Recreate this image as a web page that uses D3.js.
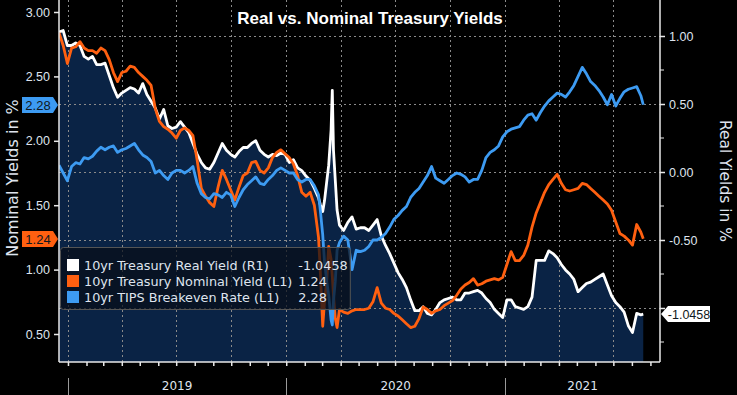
<!DOCTYPE html>
<html>
<head>
<meta charset="utf-8">
<script src="https://cdn.jsdelivr.net/npm/d3@7"></script>
<style>
  html, body { margin: 0; padding: 0; background: #000; }
  svg { display: block; font-family: "DejaVu Sans", sans-serif; }
</style>
</head>
<body>
<div id="chart"></div>
<script>
// weekly observations, with a few extra days around the March 2020 spike
const dates = [
  "2018-12-17", "2018-12-24", "2018-12-31",
  "2019-01-07", "2019-01-14", "2019-01-21", "2019-01-28", "2019-02-04", "2019-02-11", "2019-02-18", "2019-02-25",
  "2019-03-04", "2019-03-11", "2019-03-18", "2019-03-25", "2019-04-01", "2019-04-08", "2019-04-15", "2019-04-22",
  "2019-04-29", "2019-05-06", "2019-05-13", "2019-05-20", "2019-05-27", "2019-06-03", "2019-06-10", "2019-06-17",
  "2019-06-24", "2019-07-01", "2019-07-08", "2019-07-15", "2019-07-22", "2019-07-29", "2019-08-05", "2019-08-12",
  "2019-08-19", "2019-08-26", "2019-09-02", "2019-09-09", "2019-09-16", "2019-09-23", "2019-09-30", "2019-10-07",
  "2019-10-14", "2019-10-21", "2019-10-28", "2019-11-04", "2019-11-11", "2019-11-18", "2019-11-25", "2019-12-02",
  "2019-12-09", "2019-12-16", "2019-12-23", "2019-12-30",
  "2020-01-06", "2020-01-13", "2020-01-20", "2020-01-27", "2020-02-03", "2020-02-10", "2020-02-17", "2020-02-24",
  "2020-02-27", "2020-03-02", "2020-03-05", "2020-03-09", "2020-03-12", "2020-03-16", "2020-03-18", "2020-03-20",
  "2020-03-23", "2020-03-26", "2020-03-30", "2020-04-06", "2020-04-13", "2020-04-20", "2020-04-27", "2020-05-04",
  "2020-05-11", "2020-05-18", "2020-05-25", "2020-06-01", "2020-06-08", "2020-06-15", "2020-06-22", "2020-06-29",
  "2020-07-06", "2020-07-13", "2020-07-20", "2020-07-27", "2020-08-03", "2020-08-10", "2020-08-17", "2020-08-24",
  "2020-08-31", "2020-09-07", "2020-09-14", "2020-09-21", "2020-09-28", "2020-10-05", "2020-10-12", "2020-10-19",
  "2020-10-26", "2020-11-02", "2020-11-09", "2020-11-16", "2020-11-23", "2020-11-30", "2020-12-07", "2020-12-14",
  "2020-12-21", "2020-12-28",
  "2021-01-04", "2021-01-11", "2021-01-18", "2021-01-25", "2021-02-01", "2021-02-08", "2021-02-15", "2021-02-22",
  "2021-03-01", "2021-03-08", "2021-03-15", "2021-03-22", "2021-03-29", "2021-04-05", "2021-04-12", "2021-04-19",
  "2021-04-26", "2021-05-03", "2021-05-10", "2021-05-17", "2021-05-24", "2021-05-31", "2021-06-07", "2021-06-14",
  "2021-06-21", "2021-06-28", "2021-07-05", "2021-07-12", "2021-07-19", "2021-07-26", "2021-08-02", "2021-08-09",
  "2021-08-16", "2021-08-20"
];

// 10yr Treasury nominal yield, % (left axis)
const nominalYield = [
  2.84, 2.74, 2.60,
  2.72, 2.73, 2.77, 2.72, 2.70, 2.70, 2.68, 2.72, 2.70, 2.63, 2.53, 2.46, 2.53, 2.54, 2.58, 2.57, 2.53, 2.50,
  2.47, 2.43, 2.25, 2.15, 2.11, 2.09, 2.06, 2.02, 2.08, 2.10, 2.08, 2.04, 1.85, 1.63, 1.57, 1.52, 1.49, 1.64,
  1.77, 1.70, 1.62, 1.54, 1.64, 1.73, 1.75, 1.83, 1.84, 1.77, 1.75, 1.79, 1.87, 1.91, 1.93, 1.90,
  1.87, 1.82, 1.73, 1.60, 1.57, 1.60, 1.50, 1.25, 0.98, 0.56, 0.75, 0.93, 1.18, 1.08, 0.95, 0.80, 0.62, 0.55,
  0.69, 0.67, 0.66, 0.68, 0.69, 0.69, 0.69, 0.70, 0.75, 0.86, 0.74, 0.70, 0.69, 0.66, 0.64, 0.61, 0.58, 0.55,
  0.56, 0.62, 0.71, 0.69, 0.66, 0.68, 0.69, 0.72, 0.74, 0.76, 0.80, 0.85, 0.88, 0.90, 0.93, 0.88, 0.89, 0.91,
  0.92, 0.93, 0.92, 0.94,
  1.04, 1.14, 1.07, 1.07, 1.11, 1.19, 1.33, 1.44, 1.52, 1.60, 1.66, 1.70, 1.74, 1.67, 1.62, 1.61, 1.62, 1.63,
  1.67, 1.66, 1.63, 1.60, 1.57, 1.54, 1.51, 1.46, 1.37, 1.28, 1.26, 1.23, 1.19, 1.35, 1.29, 1.24
];

// 10yr TIPS breakeven rate, % (left axis)
const breakevenRate = [
  1.81, 1.75, 1.69,
  1.80, 1.83, 1.82, 1.87, 1.86, 1.88, 1.92, 1.95, 1.93, 1.95, 1.96, 1.91, 1.93, 1.94, 1.96, 1.98, 1.93, 1.89,
  1.87, 1.84, 1.75, 1.77, 1.73, 1.70, 1.75, 1.77, 1.77, 1.75, 1.77, 1.80, 1.67, 1.59, 1.56, 1.55, 1.59, 1.58,
  1.56, 1.60, 1.58, 1.49, 1.56, 1.62, 1.66, 1.69, 1.72, 1.67, 1.66, 1.70, 1.73, 1.77, 1.79, 1.77,
  1.75, 1.75, 1.70, 1.68, 1.70, 1.70, 1.65, 1.58, 1.46, 1.27, 1.06, 0.90, 0.80, 0.61, 0.57, 0.76, 0.91, 1.15,
  1.21, 1.26, 1.23, 1.00, 1.15, 1.14, 1.15, 1.18, 1.23, 1.23, 1.25, 1.28, 1.33, 1.39, 1.42, 1.46, 1.49, 1.56,
  1.60, 1.63, 1.68, 1.73, 1.80, 1.71, 1.69, 1.67, 1.70, 1.73, 1.75, 1.74, 1.72, 1.68, 1.70, 1.70, 1.77, 1.87,
  1.91, 1.93, 1.96, 2.03,
  2.07, 2.09, 2.10, 2.11, 2.16, 2.20, 2.21, 2.16, 2.22, 2.27, 2.31, 2.34, 2.37, 2.36, 2.34, 2.38, 2.43, 2.50,
  2.57, 2.52, 2.46, 2.43, 2.39, 2.34, 2.28, 2.36, 2.27, 2.33, 2.38, 2.40, 2.41, 2.42, 2.35, 2.28
];

// 10yr Treasury real yield, % (right axis)
const realYield = [
  1.03, 1.04, 0.93,
  0.93, 0.95, 0.93, 0.85, 0.83, 0.85, 0.79, 0.79, 0.80, 0.71, 0.62, 0.55, 0.58, 0.60, 0.62, 0.61, 0.58, 0.65,
  0.57, 0.52, 0.47, 0.39, 0.46, 0.34, 0.32, 0.33, 0.37, 0.33, 0.29, 0.21, 0.13, 0.07, 0.03, 0.02, 0.07, 0.14,
  0.21, 0.16, 0.13, 0.11, 0.15, 0.18, 0.18, 0.21, 0.23, 0.16, 0.13, 0.11, 0.13, 0.12, 0.14, 0.13,
  0.07, 0.09, 0.03, 0.01, -0.03, -0.06, -0.12, -0.19, -0.24, -0.29, -0.21, -0.06, 0.05, 0.31, 0.60, 0.16, -0.06, -0.28,
  -0.39, -0.43, -0.37, -0.33, -0.42, -0.41, -0.41, -0.43, -0.39, -0.35, -0.47, -0.54, -0.60, -0.67, -0.74, -0.79, -0.85, -0.94,
  -1.02, -1.02, -0.99, -1.04, -1.05, -1.01, -0.96, -0.94, -0.93, -0.92, -0.94, -0.94, -0.89, -0.89, -0.88, -0.87, -0.89, -0.93,
  -0.96, -1.01, -1.04, -1.07,
  -0.94, -0.94, -0.99, -1.00, -1.01, -0.99, -0.92, -0.65, -0.65, -0.65, -0.58, -0.60, -0.63, -0.68, -0.72, -0.75, -0.79, -0.88,
  -0.85, -0.82, -0.81, -0.79, -0.77, -0.75, -0.83, -0.91, -0.96, -0.99, -1.03, -1.13, -1.18, -1.04, -1.05, -1.0458
];

const leftTicks = [0.5, 1.0, 1.5, 2.0, 2.5, 3.0];
const rightTicks = [-1.0, -0.5, 0.0, 0.5, 1.0];
const rightLabelTicks = [-0.5, 0.0, 0.5, 1.0]; // -1.00 sits under the last-value tag
const rightMinorTicks = [-1.25, -0.75, -0.25, 0.25, 0.75];
const yearLabels = ["2019", "2020", "2021"];
const seriesNames = [
  "10yr Treasury Real Yield (R1)",
  "10yr Treasury Nominal Yield (L1)",
  "10yr TIPS Breakeven Rate (L1)"
];
const lastLabels = ["-1.0458", "1.24", "2.28"];

const COLORS = { real: "#ffffff", nominal: "#ff6010", breakeven: "#3d9bf2" };
const AREA_FILL = "#0a2345";
const TEXT = "#dfe4ee";
const SANS = "'Liberation Sans', Arial, sans-serif";

const width = 737;
const height = 395;
const plot = { left: 59, right: 660, top: 0, bottom: 362 };

const parse = d3.timeParse("%Y-%m-%d");
const days = dates.map(parse);
const pts = (arr) => arr.map((v, i) => ({ date: days[i], v }));

const x = d3
  .scaleTime()
  .domain([new Date(2018, 11, 17), new Date(2021, 8, 17)])
  .range([plot.left, plot.right]);
const yL = d3.scaleLinear().domain([0.5, 3]).range([334, 12]);
const yR = d3.scaleLinear().domain([-1, 1]).range([308, 36]);

const svg = d3
  .select("#chart")
  .append("svg")
  .attr("width", width)
  .attr("height", height);

svg.append("rect").attr("width", width).attr("height", height).attr("fill", "#000");

svg
  .append("clipPath")
  .attr("id", "clip")
  .append("rect")
  .attr("x", plot.left)
  .attr("y", plot.top)
  .attr("width", plot.right - plot.left)
  .attr("height", plot.bottom - plot.top);

// real-yield area sits behind everything
svg
  .append("path")
  .datum(pts(realYield))
  .attr("clip-path", "url(#clip)")
  .attr("fill", AREA_FILL)
  .attr(
    "d",
    d3
      .area()
      .x((d) => x(d.date))
      .y0(plot.bottom)
      .y1((d) => yR(d.v))
  );

// dotted grid: horizontal on the right axis, vertical every quarter
const grid = svg.append("g").attr("stroke", "#8a8a8a").attr("stroke-dasharray", "2,3").attr("stroke-width", 1);
grid
  .selectAll(".h")
  .data(rightTicks)
  .enter()
  .append("line")
  .attr("x1", plot.left)
  .attr("x2", plot.right)
  .attr("y1", (d) => Math.round(yR(d)) + 0.5)
  .attr("y2", (d) => Math.round(yR(d)) + 0.5);
grid
  .selectAll(".v")
  .data(x.ticks(d3.timeMonth.every(3)))
  .enter()
  .append("line")
  .attr("x1", (d) => Math.round(x(d)) + 0.5)
  .attr("x2", (d) => Math.round(x(d)) + 0.5)
  .attr("y1", plot.top)
  .attr("y2", plot.bottom);

const lineL = d3.line().x((d) => x(d.date)).y((d) => yL(d.v));
const lineR = d3.line().x((d) => x(d.date)).y((d) => yR(d.v));

const lines = svg.append("g").attr("clip-path", "url(#clip)").attr("fill", "none").attr("stroke-width", 2.8).attr("stroke-linejoin", "round");
lines.append("path").datum(pts(realYield)).attr("stroke", COLORS.real).attr("d", lineR);
lines.append("path").datum(pts(nominalYield)).attr("stroke", COLORS.nominal).attr("d", lineL);
lines.append("path").datum(pts(breakevenRate)).attr("stroke", COLORS.breakeven).attr("d", lineL);

// axes
const axisStyle = (g) => {
  g.select(".domain").attr("stroke", "#e8e8e8").attr("stroke-width", 1.5);
  g.selectAll(".tick line").attr("stroke", "#e8e8e8").attr("stroke-width", 1.5);
  g.selectAll(".tick text").attr("fill", TEXT).attr("font-size", 12.5);
};

svg
  .append("g")
  .attr("transform", `translate(${plot.left},0)`)
  .call(d3.axisLeft(yL).tickValues(leftTicks).tickFormat((d) => d.toFixed(2)).tickSize(5).tickPadding(4))
  .call((g) => g.select(".domain").attr("d", `M0,${plot.top}V${plot.bottom}`))
  .call(axisStyle);

svg
  .append("g")
  .attr("transform", `translate(${plot.right},0)`)
  .call(
    d3
      .axisRight(yR)
      .tickValues(rightTicks)
      .tickFormat((d) => (rightLabelTicks.includes(d) ? d.toFixed(2) : ""))
      .tickSize(5)
      .tickPadding(4)
  )
  .call((g) => g.select(".domain").attr("d", `M0,${plot.top}V${plot.bottom}`))
  .call(axisStyle);

svg
  .append("g")
  .attr("stroke", "#e8e8e8")
  .selectAll("line")
  .data(rightMinorTicks)
  .enter()
  .append("line")
  .attr("x1", plot.right)
  .attr("x2", plot.right + 4)
  .attr("y1", (d) => yR(d))
  .attr("y2", (d) => yR(d));

svg
  .append("g")
  .attr("transform", `translate(0,${plot.bottom})`)
  .call(d3.axisBottom(x).ticks(d3.timeMonth.every(1)).tickFormat("").tickSize(4))
  .call((g) => g.select(".domain").attr("d", `M${plot.left},0H${plot.right}`))
  .call(axisStyle);

// year bands under the axis
const yearStarts = yearLabels.map((y) => new Date(+y, 0, 1));
svg
  .append("g")
  .attr("stroke", "#9a9a9a")
  .selectAll("line")
  .data(yearStarts)
  .enter()
  .append("line")
  .attr("x1", (d) => Math.round(x(d)) + 0.5)
  .attr("x2", (d) => Math.round(x(d)) + 0.5)
  .attr("y1", 378)
  .attr("y2", height);

svg
  .append("g")
  .selectAll("text")
  .data(yearLabels)
  .enter()
  .append("text")
  .attr("x", (d, i) => {
    const a = x(yearStarts[i]);
    const b = Math.min(x(new Date(+d + 1, 0, 1)), plot.right);
    return (a + b) / 2;
  })
  .attr("y", 390)
  .attr("text-anchor", "middle")
  .attr("fill", TEXT)
  .attr("font-size", 12)
  .text((d) => d);

// axis titles
svg
  .append("text")
  .attr("transform", "translate(18,178) rotate(-90)")
  .attr("text-anchor", "middle")
  .attr("fill", TEXT)
  .attr("font-size", 16)
  .text("Nominal Yields in %");
svg
  .append("text")
  .attr("transform", "translate(720,181) rotate(90)")
  .attr("text-anchor", "middle")
  .attr("fill", TEXT)
  .attr("font-size", 15.5)
  .text("Real Yields in %");

// title
svg
  .append("text")
  .attr("x", 370)
  .attr("y", 24)
  .attr("text-anchor", "middle")
  .attr("fill", "#fff")
  .attr("font-family", SANS)
  .attr("font-weight", "bold")
  .attr("font-size", 17)
  .text("Real vs. Nominal Treasury Yields");

// last-value tags
const leftTag = (v, label, color) => {
  const y = Math.round(yL(v));
  svg
    .append("path")
    .attr("d", `M22,${y - 8}H53L58,${y}L53,${y + 8}H22Z`)
    .attr("fill", color);
  svg
    .append("text")
    .attr("x", 38)
    .attr("y", y + 4.5)
    .attr("text-anchor", "middle")
    .attr("fill", "#101820")
    .attr("font-family", SANS)
    .attr("font-size", 13)
    .text(label);
};
leftTag(breakevenRate[breakevenRate.length - 1], lastLabels[2], COLORS.breakeven);
leftTag(nominalYield[nominalYield.length - 1], lastLabels[1], COLORS.nominal);

{
  const y = Math.round(yR(realYield[realYield.length - 1]));
  svg
    .append("path")
    .attr("d", `M661,${y}L668,${y - 8}H710V${y + 8}H668Z`)
    .attr("fill", "#fff");
  svg
    .append("text")
    .attr("x", 689)
    .attr("y", y + 4.5)
    .attr("text-anchor", "middle")
    .attr("fill", "#101820")
    .attr("font-family", SANS)
    .attr("font-size", 12.5)
    .text(lastLabels[0]);
}

// legend
const legend = svg.append("g");
const legendBox = legend
  .append("rect")
  .attr("x", 60.5)
  .attr("y", 247.5)
  .attr("width", 286)
  .attr("height", 62)
  .attr("rx", 3)
  .attr("fill", "rgba(8,14,24,0.72)")
  .attr("stroke", "#555");

const legendColors = [COLORS.real, COLORS.nominal, COLORS.breakeven];
const rows = legend
  .selectAll(".row")
  .data(seriesNames)
  .enter()
  .append("g")
  .attr("transform", (_, i) => `translate(0,${265 + i * 16})`);
rows
  .append("rect")
  .attr("x", 67)
  .attr("y", -6)
  .attr("width", 12)
  .attr("height", 12)
  .attr("fill", (_, i) => legendColors[i]);
const names = rows
  .append("text")
  .attr("x", 84)
  .attr("y", 5)
  .attr("fill", TEXT)
  .attr("font-size", 12.8)
  .text((d) => d);

// value column starts just past the longest name
let valueX = 293;
names.each(function () {
  valueX = Math.max(valueX, 84 + this.getComputedTextLength() + 6);
});
rows
  .append("text")
  .attr("x", valueX)
  .attr("y", 5)
  .attr("fill", TEXT)
  .attr("font-size", 12.8)
  .text((_, i) => lastLabels[i]);
legendBox.attr("width", Math.max(286, valueX + 52 - 60.5));
</script>
</body>
</html>
